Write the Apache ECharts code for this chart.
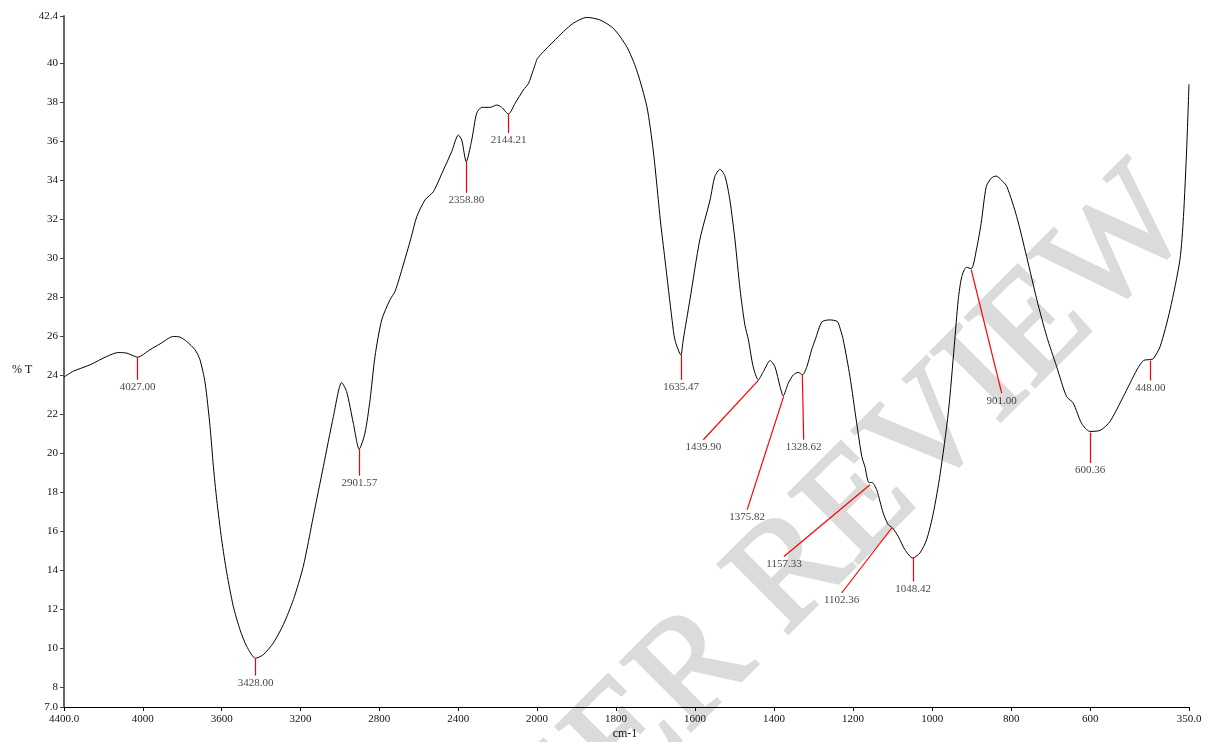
<!DOCTYPE html>
<html>
<head>
<meta charset="utf-8">
<script src="https://cdn.jsdelivr.net/npm/echarts@6/dist/echarts.min.js"></script>
<style>
html,body{margin:0;padding:0;background:#fff;}
#chart{width:1211px;height:742px;}
</style>
</head>
<body>
<div id="chart"></div>
<script>
// Wavenumber region 4400-2000 cm-1 (compressed scale)
const wnHigh = [4400,4353,4268,4183,4124,4082,4050,4027,3964,3913,3845,3811,3777,3735,3710,3684,3659,3642,3625,3600,3574,3541,3507,3473,3428,3389,3338,3287,3236,3186,3135,3084,3033,2991,2966,2932,2902,2873,2847,2822,2788,2746,2720,2680,2640,2610,2568,2526,2475,2433,2399,2382,2359,2331,2306,2280,2238,2204,2179,2145,2111,2069,2043,2020,2000];
const tHigh  = [23.9,24.2,24.53,24.96,25.16,25.13,25.0,24.92,25.3,25.6,25.98,25.95,25.72,25.3,24.79,23.6,21.37,19.32,17.62,15.57,13.87,12.16,10.96,10.11,9.5,9.68,10.28,11.22,12.5,14.2,16.76,19.32,21.88,23.62,23.16,21.54,20.21,21.03,22.74,24.96,26.83,27.86,28.3,29.6,31.0,32.12,32.98,33.4,34.51,35.45,36.3,36.05,34.94,36.05,37.42,37.72,37.72,37.84,37.72,37.38,37.93,38.61,38.95,39.6,40.2];

// Wavenumber region 2000-350 cm-1 (expanded scale)
const wnLow = [2000,1984,1959,1933,1908,1874,1841,1807,1773,1748,1722,1706,1693,1688,1676,1658,1651,1636,1630,1613,1588,1562,1550,1537,1524,1512,1499,1486,1474,1465,1453,1440,1427,1410,1398,1385,1377,1364,1351,1339,1328,1317,1305,1296,1279,1259,1240,1233,1225,1208,1191,1178,1170,1160,1152,1140,1124,1111,1100,1086,1069,1049,1031,1014,997,980,959,944,934,925,913,901,888,876,863,850,838,825,811,786,761,735,710,685,660,643,622,601,575,550,516,482,465,448,440,423,398,373,364,356,350];
const tLow  = [40.2,40.57,41.08,41.6,42.03,42.33,42.2,41.77,40.83,39.64,37.76,35.54,32.98,31.95,29.9,26.8,25.81,25.04,25.81,27.86,30.93,32.98,34.17,34.55,34.17,32.98,30.93,28.37,26.58,25.81,24.44,23.76,24.19,24.75,24.44,23.42,22.94,23.59,24.02,24.14,24.02,24.44,25.3,25.81,26.73,26.83,26.75,26.4,25.81,23.93,21.54,19.83,19.3,18.5,18.5,18.1,16.94,16.34,16.17,15.74,15.06,14.63,14.89,15.57,16.94,18.9,22.1,25.5,27.86,29.05,29.53,29.45,30.42,31.78,33.66,34.1,34.2,34.0,33.66,32.12,30.08,27.86,25.98,24.44,22.91,22.57,21.54,21.12,21.17,21.63,22.91,24.27,24.75,24.8,24.85,25.47,27.35,29.91,32.12,35.54,38.9];

// Peak annotations: peak position, and where the leader line ends (label anchor), in data units
const peakLabels = ["4027.00","3428.00","2901.57","2358.80","2144.21","1635.47","1439.90","1375.82","1328.62","1157.33","1102.36","1048.42","901.00","600.36","448.00"];
const peakWn  = [4027,3428,2901.57,2358.8,2144.21,1635.47,1439.9,1375.82,1328.62,1157.33,1102.36,1048.42,901,600.36,448];
const peakT   = [24.94,9.48,20.23,34.92,37.38,25.04,23.73,22.91,24.02,18.39,16.17,14.63,29.39,21.06,24.75];
const tagWn   = [4027,3428,2901.57,2358.8,2144.21,1635.47,1579,1468,1325,1375,1229,1048.42,824,600.36,448];
const tagT    = [23.76,8.61,18.85,33.34,36.41,23.76,20.69,17.11,20.69,14.71,12.84,13.43,23.08,19.5,23.73];

// Axis ticks
const xTicksHigh = [4400,4000,3600,3200,2800,2400,2000];
const xTicksLow  = [1800,1600,1400,1200,1000,800,600,350];
const yTicks = [7,8,10,12,14,16,18,20,22,24,26,28,30,32,34,36,38,40,42.4];

const FONT = '"Liberation Serif", "DejaVu Serif", serif';

function peaksFor(high) {
  const lines = [], tags = [];
  peakWn.forEach((w, i) => {
    if ((w >= 2000) === high) {
      lines.push([{coord: [w, peakT[i]]}, {coord: [tagWn[i], tagT[i]]}]);
      tags.push({value: [tagWn[i], tagT[i]], name: peakLabels[i]});
    }
  });
  return {lines, tags};
}
const pH = peaksFor(true), pL = peaksFor(false);

function xAxisCfg(grid, min, max, ticks, fmt) {
  return {
    type: 'value', gridIndex: grid, min: min, max: max, inverse: true,
    axisLine: {show: true, onZero: false, lineStyle: {color: '#000', width: 1}},
    axisTick: {show: true, length: 4, customValues: ticks, lineStyle: {color: '#000'}},
    axisLabel: {customValues: ticks, formatter: fmt, fontFamily: FONT, fontSize: 11, color: '#111', margin: 7},
    splitLine: {show: false}
  };
}

const markLineCfg = (data) => ({
  silent: true, symbol: ['none', 'none'], label: {show: false},
  lineStyle: {color: '#ff0000', width: 1.2, type: 'solid', opacity: 1},
  emphasis: {disabled: true},
  data: data
});

const chart = echarts.init(document.getElementById('chart'), null, {renderer: 'canvas'});
chart.setOption({
  animation: false,
  backgroundColor: '#fff',
  grid: [
    {left: 64, top: 16, width: 473, height: 691},
    {left: 537, top: 16, width: 652, height: 691}
  ],
  xAxis: [
    xAxisCfg(0, 2000, 4400, xTicksHigh, v => v === 4400 ? '4400.0' : String(v)),
    xAxisCfg(1, 350, 2000, xTicksLow, v => v === 350 ? '350.0' : String(v))
  ],
  yAxis: [
    {
      type: 'value', gridIndex: 0, min: 7, max: 42.4,
      axisLine: {show: true, lineStyle: {color: '#666', width: 2}},
      axisTick: {show: true, length: 4, customValues: yTicks, lineStyle: {color: '#444'}},
      axisLabel: {customValues: yTicks, formatter: v => v === 7 ? '7.0' : String(v), fontFamily: FONT, fontSize: 11, color: '#111', margin: 6},
      splitLine: {show: false}
    },
    {type: 'value', gridIndex: 1, min: 7, max: 42.4, show: false, splitLine: {show: false}}
  ],
  graphic: [
    {type: 'text', x: 820, y: 546, rotation: Math.PI / 4, z: -10, silent: true,
     style: {text: 'PEER REVIEW', font: '150px "Liberation Serif"', fill: '#dbdbdb', stroke: '#dbdbdb', lineWidth: 3, align: 'center', verticalAlign: 'middle'}},
    {type: 'text', x: 12, y: 370, style: {text: '% T', font: '12px "Liberation Serif"', fill: '#111', align: 'left', verticalAlign: 'middle'}},
    {type: 'text', x: 625, y: 734, style: {text: 'cm-1', font: '12px "Liberation Serif"', fill: '#111', align: 'center', verticalAlign: 'middle'}}
  ],
  series: [
    {
      type: 'line', xAxisIndex: 0, yAxisIndex: 0, z: 3,
      data: wnHigh.map((w, i) => [w, tHigh[i]]),
      showSymbol: false, smooth: 0.25,
      lineStyle: {color: '#000', width: 1},
      emphasis: {disabled: true},
      markLine: markLineCfg(pH.lines)
    },
    {
      type: 'line', xAxisIndex: 1, yAxisIndex: 1, z: 3,
      data: wnLow.map((w, i) => [w, tLow[i]]),
      showSymbol: false, smooth: 0.25,
      lineStyle: {color: '#000', width: 1},
      emphasis: {disabled: true},
      markLine: markLineCfg(pL.lines)
    },
    {
      type: 'scatter', xAxisIndex: 0, yAxisIndex: 0, symbolSize: 0, silent: true,
      data: pH.tags,
      label: {show: true, position: 'bottom', distance: 2, formatter: p => p.name, fontFamily: FONT, fontSize: 11, color: '#111'}
    },
    {
      type: 'scatter', xAxisIndex: 1, yAxisIndex: 1, symbolSize: 0, silent: true,
      data: pL.tags,
      label: {show: true, position: 'bottom', distance: 2, formatter: p => p.name, fontFamily: FONT, fontSize: 11, color: '#111'}
    }
  ]
});
</script>
</body>
</html>
